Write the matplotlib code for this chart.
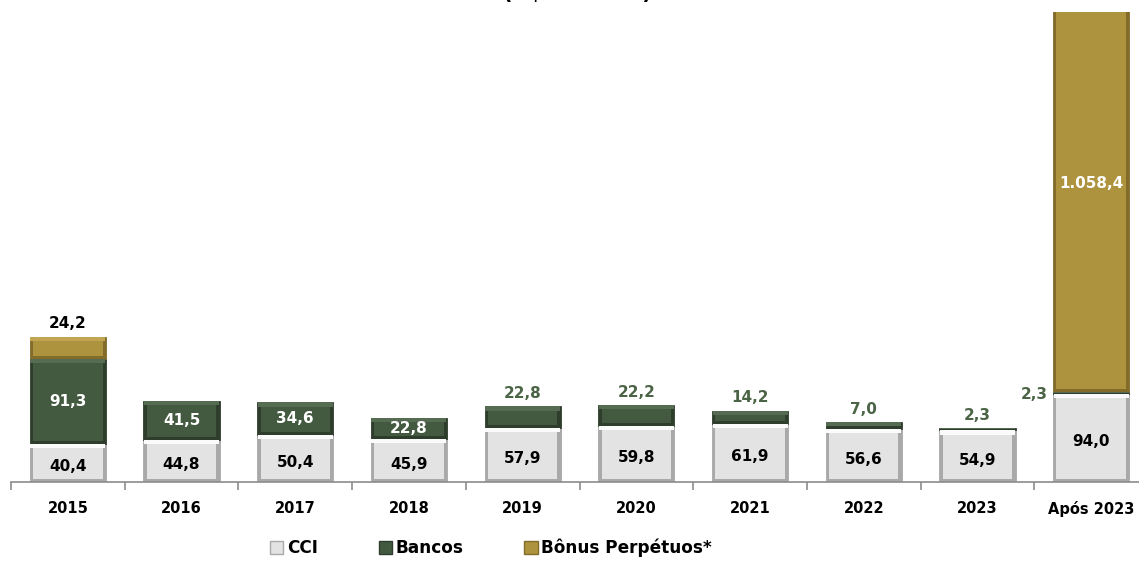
import matplotlib as mpl
import matplotlib.pyplot as plt
from matplotlib.patches import Patch

mpl.rc("figure", facecolor="white")
plt.rcParams['font.family'] = ['DejaVu Sans']

# data (R$ milhões)
anos = ['2015', '2016', '2017', '2018', '2019', '2020', '2021', '2022', '2023', 'Após 2023']
cci = [40.4, 44.8, 50.4, 45.9, 57.9, 59.8, 61.9, 56.6, 54.9, 94.0]
bancos = [91.3, 41.5, 34.6, 22.8, 22.8, 22.2, 14.2, 7.0, 2.3, 2.3]
bonus = [24.2, 0, 0, 0, 0, 0, 0, 0, 0, 1058.4]


def fmt(v):
    s = '{:,.1f}'.format(v)
    return s.replace(',', 'X').replace('.', ',').replace('X', '.')


# colours: (side shade, top highlight, main face)
c_cci = ('#a9a9a9', '#fbfbfb', '#e3e3e3')
c_ban = ('#2f3e2c', '#566c52', '#435a40')
c_bon = ('#836b2a', '#c2a552', '#ae933e')
verde = '#4b6445'

fig = plt.figure(figsize=(11.39, 5.61), dpi=100)
ax = fig.add_axes([11 / 1139, 79.5 / 561, 1137 / 1139, 469.5 / 561])

w = 0.67
ix = 0.03    # bevel inset in x (axis units)
iy = 4.5     # bevel inset in y (data units)


def bevel_bar(x, bottom, h, cols):
    """draw one segment with a cheap bevel look"""
    if h <= 0:
        return
    side, light, face = cols
    ax.bar(x, h, w, bottom=bottom, color=side, edgecolor=side, linewidth=0.6, zorder=2)
    if h > 3 * iy:
        ax.bar(x, iy, w - 0.01, bottom=bottom + h - iy, color=light, linewidth=0, zorder=3)
        ax.bar(x, h - iy - 3, w - 2 * ix, bottom=bottom + 3, color=face, linewidth=0, zorder=4)
    else:
        ax.bar(x, h * 0.5, w - 0.01, bottom=bottom + h * 0.5, color=light, linewidth=0, zorder=3)


xs = list(range(len(anos)))
for i in xs:
    bevel_bar(i, 0, cci[i], c_cci)
    bevel_bar(i, cci[i], bancos[i], c_ban)
    bevel_bar(i, cci[i] + bancos[i], bonus[i], c_bon)

lab = dict(fontsize=11, fontweight='bold', ha='center', zorder=6)
for i in xs:
    # CCI inside
    ax.annotate(fmt(cci[i]), (i, cci[i] / 2), xytext=(0, -3), textcoords='offset points',
                va='center', color='black', **lab)
    # Bancos
    top = cci[i] + bancos[i]
    if i <= 3:
        ax.annotate(fmt(bancos[i]), (i, cci[i] + bancos[i] / 2), va='center', color='white', **lab)
    elif i < 9:
        ax.annotate(fmt(bancos[i]), (i, top), xytext=(0, 4), textcoords='offset points',
                    va='bottom', color=verde, **lab)
    else:
        ax.annotate(fmt(bancos[i]), (i - w / 2, top), xytext=(-4, -2), textcoords='offset points',
                    va='center', color=verde, fontsize=11, fontweight='bold', ha='right', zorder=6)
    # Bonus
    if bonus[i] > 0 and i == 0:
        ax.annotate(fmt(bonus[i]), (i, top + bonus[i]), xytext=(0, 4), textcoords='offset points',
                    va='bottom', color='black', **lab)
    elif bonus[i] > 0:
        ax.annotate(fmt(bonus[i]), (i, 320), va='center', color='white', **lab)

ax.set_xlim(-0.5, 9.5)
ax.set_ylim(0, 505)
for s in ['top', 'right', 'left']:
    ax.spines[s].set_visible(False)
ax.spines['bottom'].set_color('#8c8c8c')
ax.spines['bottom'].set_linewidth(1.2)
ax.set_yticks([])
ax.set_xticks(xs)
ax.set_xticklabels(anos, fontsize=10.5, fontweight='bold')
ax.tick_params(axis='x', which='major', length=0, pad=14)
ax.set_xticks([i - 0.5 for i in range(len(anos) + 1)], minor=True)
ax.tick_params(axis='x', which='minor', length=6, color='#8c8c8c', width=1.2)

handles = [Patch(facecolor=c_cci[2], edgecolor=c_cci[0], label='CCI'),
           Patch(facecolor=c_ban[2], edgecolor=c_ban[0], label='Bancos'),
           Patch(facecolor=c_bon[2], edgecolor=c_bon[0], label='Bônus Perpétuos*')]
fig.legend(handles=handles, loc='center', bbox_to_anchor=(0.431, 13 / 561), ncol=3,
           frameon=False, handlelength=0.8, handleheight=0.8, handletextpad=0.2,
           columnspacing=3.6, prop={'weight': 'bold', 'size': 12.2})

# title sits mostly outside the picture, as in the source image
fig.text(0.507, 1 + 0.5 / 561, '(R$ milhões)', ha='center', va='baseline',
         fontsize=15, fontweight='bold')

fig.savefig('out.png', dpi=100)
